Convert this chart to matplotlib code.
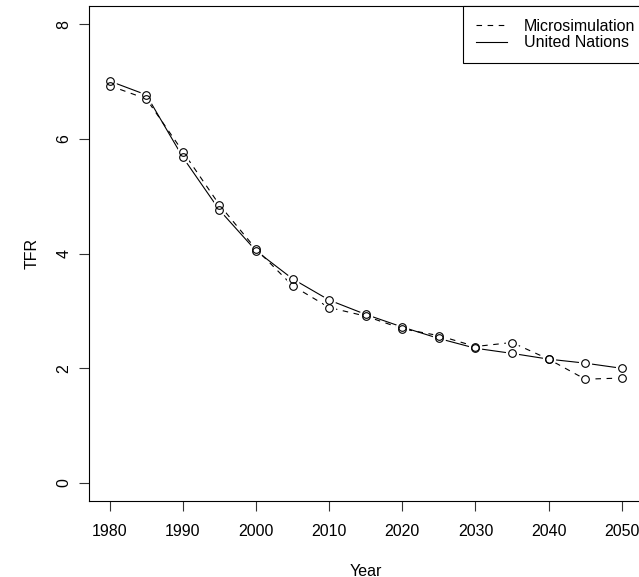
import matplotlib
matplotlib.use("Agg")
import matplotlib.pyplot as plt

plt.rcParams['font.family'] = ['Liberation Sans', 'DejaVu Sans']

years = [1980, 1985, 1990, 1995, 2000, 2005, 2010, 2015, 2020, 2025,
         2030, 2035, 2040, 2045, 2050]
tfr_micro = [6.93, 6.70, 5.78, 4.85, 4.08, 3.44, 3.06, 2.91, 2.69, 2.57,
             2.38, 2.45, 2.16, 1.81, 1.83]
tfr_un = [7.01, 6.77, 5.68, 4.76, 4.05, 3.56, 3.19, 2.94, 2.72, 2.52,
          2.35, 2.26, 2.16, 2.09, 2.00]

xticks = [1980, 1990, 2000, 2010, 2020, 2030, 2040, 2050]
yticks = [0, 2, 4, 6, 8]

fig = plt.figure(figsize=(6.39, 5.77), dpi=100)
ax = fig.add_axes([0.1397, 0.1312, 0.8653, 0.8584])

lw = 0.8
dash = (0, (5, 5))
fs = 11.5

# lines first, then white discs to open a gap round each point, then circles
ax.plot(years, tfr_micro, color='black', lw=lw, linestyle=dash,
        label='Microsimulation')
ax.plot(years, tfr_un, color='black', lw=lw, linestyle='-',
        label='United Nations')
for vals in (tfr_micro, tfr_un):
    ax.plot(years, vals, linestyle='none', marker='o', markersize=8.5,
            markerfacecolor='white', markeredgecolor='white', zorder=3)
for vals in (tfr_micro, tfr_un):
    ax.plot(years, vals, linestyle='none', marker='o', markersize=5.5,
            markerfacecolor='none', markeredgecolor='black',
            markeredgewidth=0.8, zorder=4)

ax.set_xlim(1977.2, 2052.8)
ax.set_ylim(-0.32, 8.32)
ax.set_xticks(xticks)
ax.set_yticks(yticks)
ax.tick_params(direction='out', length=7, width=0.8, labelsize=fs,
               color='#333333')
ax.tick_params(axis='x', pad=9)
ax.tick_params(axis='y', pad=6)
for lab in ax.get_yticklabels():
    lab.set_rotation(90)
    lab.set_va('center')

for sp in ax.spines.values():
    sp.set_linewidth(0.8)

ax.set_xlabel('Year', fontsize=fs, labelpad=18)
ax.set_ylabel('TFR', fontsize=fs, labelpad=12)

# legend sits a little past the right edge of the plot box
leg = ax.legend(loc='upper right', bbox_to_anchor=(1.011, 1), borderaxespad=0,
                fontsize=fs, handlelength=1.9, handletextpad=1.1,
                borderpad=0.8, labelspacing=0.1, fancybox=False,
                edgecolor='black', framealpha=1)
leg.get_frame().set_linewidth(0.8)

fig.savefig('out.png', dpi=100)
